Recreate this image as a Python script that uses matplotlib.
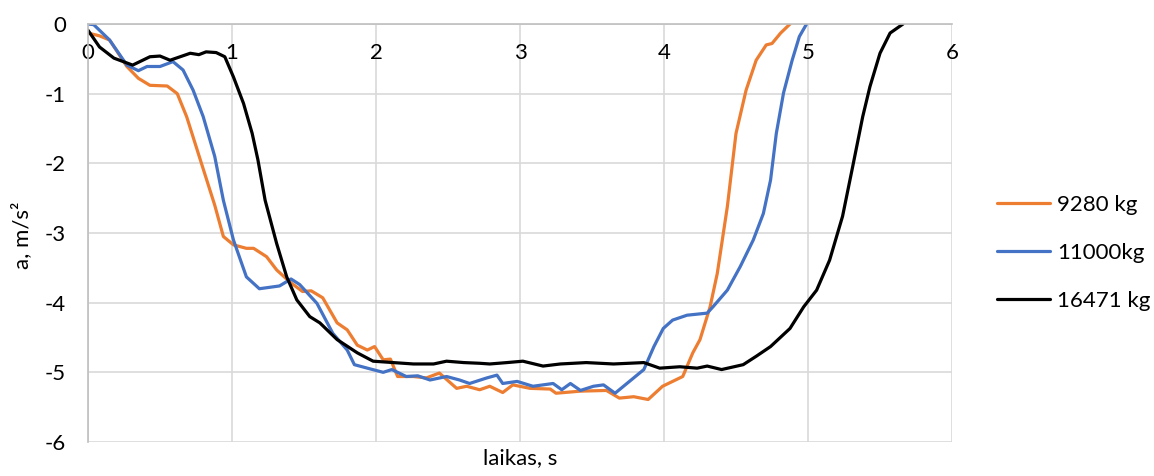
import matplotlib
matplotlib.use("Agg")
import matplotlib.pyplot as plt

plt.rcParams['font.family'] = ['Lato', 'DejaVu Sans']
plt.rcParams['axes.unicode_minus'] = False

# 9280 kg
t_9280 = [0, 0.08, 0.15, 0.27, 0.35, 0.43, 0.55, 0.62, 0.685, 0.78, 0.88, 0.94, 1.01, 1.10,
          1.15, 1.24, 1.31, 1.40, 1.49, 1.55, 1.63, 1.73, 1.80, 1.87, 1.94, 1.99, 2.05, 2.10,
          2.15, 2.26, 2.35, 2.44, 2.56, 2.63, 2.72, 2.79, 2.88, 2.95, 3.07, 3.21, 3.25, 3.42,
          3.60, 3.69, 3.79, 3.89, 3.99, 4.06, 4.13, 4.20, 4.25, 4.32, 4.37, 4.44, 4.50, 4.57,
          4.64, 4.71, 4.75, 4.81, 4.875]
a_9280 = [-0.13, -0.17, -0.23, -0.61, -0.78, -0.88, -0.89, -1.0, -1.33, -1.95, -2.6, -3.05,
          -3.17, -3.22, -3.22, -3.34, -3.53, -3.70, -3.84, -3.83, -3.93, -4.29, -4.39, -4.61,
          -4.68, -4.63, -4.82, -4.81, -5.06, -5.06, -5.08, -5.01, -5.23, -5.20, -5.25, -5.20,
          -5.29, -5.18, -5.23, -5.24, -5.30, -5.27, -5.26, -5.37, -5.35, -5.39, -5.20, -5.13,
          -5.06, -4.72, -4.53, -4.06, -3.58, -2.62, -1.57, -0.95, -0.52, -0.30, -0.28, -0.13, 0.0]

# 11000 kg
t_11000 = [0, 0.04, 0.15, 0.27, 0.35, 0.41, 0.5, 0.59, 0.66, 0.73, 0.80, 0.88, 0.94, 1.01,
           1.10, 1.19, 1.26, 1.33, 1.41, 1.47, 1.59, 1.70, 1.80, 1.85, 1.94, 2.05, 2.11, 2.21,
           2.29, 2.375, 2.49, 2.58, 2.65, 2.77, 2.84, 2.88, 2.98, 3.09, 3.23, 3.29, 3.35, 3.42,
           3.51, 3.58, 3.66, 3.76, 3.86, 3.93, 3.995, 4.06, 4.16, 4.30, 4.34, 4.44, 4.53, 4.62,
           4.69, 4.74, 4.78, 4.83, 4.89, 4.94, 4.99]
a_11000 = [0, -0.01, -0.23, -0.59, -0.67, -0.61, -0.61, -0.54, -0.66, -0.95, -1.33, -1.90,
           -2.53, -3.10, -3.63, -3.80, -3.78, -3.76, -3.66, -3.74, -4.01, -4.44, -4.68, -4.89,
           -4.94, -5.00, -4.96, -5.06, -5.05, -5.11, -5.06, -5.11, -5.16, -5.08, -5.04, -5.16,
           -5.13, -5.20, -5.16, -5.25, -5.16, -5.26, -5.20, -5.18, -5.30, -5.13, -4.96, -4.63,
           -4.37, -4.25, -4.18, -4.15, -4.06, -3.82, -3.48, -3.10, -2.72, -2.24, -1.57, -0.99,
           -0.52, -0.18, 0.0]

# 16471 kg
t_16471 = [0, 0.08, 0.18, 0.245, 0.31, 0.36, 0.43, 0.5, 0.57, 0.64, 0.71, 0.77, 0.82, 0.89,
           0.95, 1.01, 1.08, 1.14, 1.18, 1.23, 1.31, 1.38, 1.45, 1.54, 1.61, 1.73, 1.87, 1.98,
           2.12, 2.26, 2.40, 2.49, 2.61, 2.72, 2.79, 2.91, 3.02, 3.16, 3.28, 3.46, 3.65, 3.86,
           3.97, 4.11, 4.23, 4.30, 4.40, 4.55, 4.64, 4.74, 4.875, 4.97, 5.06, 5.15, 5.24, 5.31,
           5.38, 5.43, 5.50, 5.57, 5.66]
a_16471 = [-0.09, -0.33, -0.49, -0.54, -0.59, -0.54, -0.47, -0.46, -0.52, -0.47, -0.42, -0.44,
           -0.40, -0.41, -0.47, -0.76, -1.14, -1.57, -1.95, -2.53, -3.15, -3.63, -3.96, -4.20,
           -4.29, -4.53, -4.72, -4.84, -4.86, -4.88, -4.88, -4.84, -4.86, -4.87, -4.88, -4.86,
           -4.84, -4.91, -4.88, -4.86, -4.88, -4.86, -4.94, -4.92, -4.94, -4.91, -4.96, -4.89,
           -4.77, -4.63, -4.37, -4.06, -3.82, -3.39, -2.76, -2.05, -1.33, -0.90, -0.42, -0.13, 0.0]

labels = ["9280 kg", "11000kg", "16471 kg"]
colors = ["#ED7D31", "#4472C4", "#000000"]
x_ticks = [0, 1, 2, 3, 4, 5, 6]
y_ticks = [0, -1, -2, -3, -4, -5, -6]

fig = plt.figure(figsize=(11.54, 4.76), dpi=100)
ax = fig.add_axes([88 / 1154, 1 - 442 / 476, (952 - 88) / 1154, (442 - 24) / 476])

for t, a, lab, c in zip([t_9280, t_11000, t_16471], [a_9280, a_11000, a_16471], labels, colors):
    ax.plot(t, a, color=c, lw=2.3, label=lab, solid_joinstyle='round', solid_capstyle='round')

ax.set_xlim(0, 6)
ax.set_ylim(-6, 0)
ax.set_xticks(x_ticks)
ax.set_yticks(y_ticks)
ax.grid(True, color="#D9D9D9", lw=1.2)
ax.set_axisbelow(True)

# x axis sits on the zero line at the top
ax.spines['bottom'].set_position(('data', 0))
ax.spines['bottom'].set_color("#BFBFBF")
ax.spines['left'].set_color("#BFBFBF")
ax.spines['bottom'].set_linewidth(1.2)
ax.spines['left'].set_linewidth(1.2)
ax.spines['top'].set_visible(False)
ax.spines['right'].set_visible(False)
ax.tick_params(length=0, labelsize=16, colors="#000000")
ax.tick_params(axis='x', pad=14)
ax.tick_params(axis='y', pad=16)

ax.set_xlabel("laikas, s", fontsize=16)
ax.xaxis.set_label_coords(0.5, -0.015)
ax.set_ylabel("a, m/s²", fontsize=16)
ax.yaxis.set_label_coords(-0.065, 0.495)

fig.legend(loc='center left', bbox_to_anchor=(997 / 1154, 1 - 253 / 476), frameon=False,
           fontsize=16, handlelength=2.4, handletextpad=0.3, labelspacing=1.25,
           borderpad=0, borderaxespad=0)

fig.savefig("out.png", dpi=100)
